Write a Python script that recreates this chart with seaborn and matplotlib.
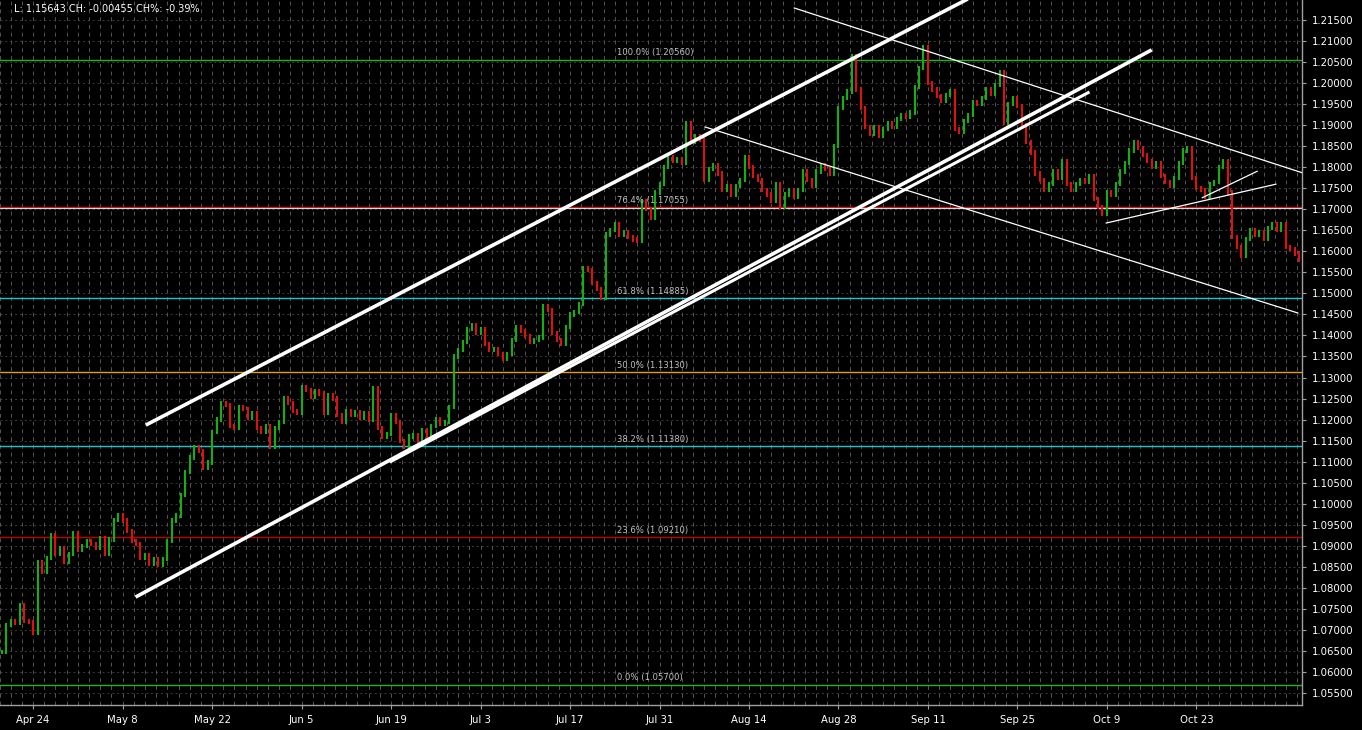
import matplotlib
matplotlib.use("Agg")
import matplotlib.pyplot as plt
import numpy as np
import pandas as pd
import seaborn as sns

# half-day bar closes, EURUSD Apr-Nov
closes = [
    1.0648, 1.0712, 1.0722, 1.0716, 1.0760, 1.0722, 1.0718, 1.0692, 1.0860, 1.0838,
    1.0870, 1.0925, 1.0880, 1.0895, 1.0862, 1.0880, 1.0930, 1.0890, 1.0900, 1.0912,
    1.0905, 1.0895, 1.0918, 1.0880, 1.0915, 1.0962, 1.0972, 1.0960, 1.0935, 1.0912,
    1.0905, 1.0870, 1.0878, 1.0858, 1.0868, 1.0855, 1.0868, 1.0912, 1.0960, 1.0972,
    1.1020, 1.1075, 1.1110, 1.1135, 1.1125, 1.1085, 1.1098, 1.1170, 1.1200, 1.1240,
    1.1235, 1.1185, 1.1180, 1.1230, 1.1225, 1.1205, 1.1215, 1.1180, 1.1170, 1.1185,
    1.1135, 1.1180, 1.1195, 1.1250, 1.1240, 1.1220, 1.1215, 1.1278, 1.1270, 1.1255,
    1.1268, 1.1262, 1.1215, 1.1258, 1.1250, 1.1210, 1.1195, 1.1220, 1.1210, 1.1218,
    1.1205, 1.1215, 1.1200, 1.1275, 1.1180, 1.1160, 1.1165, 1.1210, 1.1195, 1.1150,
    1.1135, 1.1160, 1.1162, 1.1148, 1.1175, 1.1160, 1.1185, 1.1200, 1.1190, 1.1195,
    1.1230, 1.1350, 1.1365, 1.1385, 1.1415, 1.1425, 1.1405, 1.1415, 1.1380, 1.1365,
    1.1368, 1.1355, 1.1345, 1.1355, 1.1390, 1.1420, 1.1410, 1.1398, 1.1385, 1.1390,
    1.1395, 1.1470, 1.1460, 1.1405, 1.1390, 1.1380, 1.1420, 1.1450, 1.1455, 1.1475,
    1.1560, 1.1555, 1.1525, 1.1510, 1.1490, 1.1640, 1.1650, 1.1665, 1.1640, 1.1645,
    1.1635, 1.1628, 1.1625, 1.1720, 1.1700, 1.1680, 1.1740, 1.1760, 1.1800, 1.1825,
    1.1815, 1.1820, 1.1810, 1.1905, 1.1860, 1.1875, 1.1865, 1.1770, 1.1795, 1.1805,
    1.1785, 1.1745, 1.1755, 1.1735, 1.1755, 1.1770, 1.1825, 1.1800, 1.1780, 1.1770,
    1.1745, 1.1735, 1.1720, 1.1760, 1.1705, 1.1735, 1.1745, 1.1730, 1.1745, 1.1790,
    1.1770, 1.1755, 1.1790, 1.1805, 1.1795, 1.1785, 1.1850, 1.1940, 1.1965, 1.1980,
    1.2065, 1.1985, 1.1940, 1.1895, 1.1880, 1.1895, 1.1875, 1.1890, 1.1905, 1.1895,
    1.1915, 1.1925, 1.1920, 1.1930, 1.1990, 1.2035, 1.2085, 1.2000, 1.1985, 1.1970,
    1.1958, 1.1972, 1.1980, 1.1890, 1.1885, 1.1910, 1.1925, 1.1955, 1.1950, 1.1965,
    1.1985, 1.1975, 1.1995, 1.2025, 1.1905, 1.1950, 1.1965, 1.1945, 1.1900, 1.1860,
    1.1835, 1.1785, 1.1770, 1.1745, 1.1760, 1.1790, 1.1775, 1.1815, 1.1760, 1.1745,
    1.1760, 1.1770, 1.1765, 1.1780, 1.1725, 1.1705, 1.1690, 1.1740, 1.1735, 1.1760,
    1.1790, 1.1810, 1.1840, 1.1860, 1.1845, 1.1830, 1.1815, 1.1800, 1.1810, 1.1780,
    1.1765, 1.1755, 1.1775, 1.1810, 1.1840, 1.1845, 1.1775, 1.1750, 1.1745, 1.1730,
    1.1760, 1.1765, 1.1800, 1.1815, 1.1740, 1.1635, 1.1610, 1.1590, 1.1630, 1.1650,
    1.1640, 1.1645, 1.1630, 1.1655, 1.1665, 1.1650, 1.1665, 1.1610, 1.1605, 1.1595,
    1.1580, 1.1564,
]

date_ticks = [7, 27, 47, 67, 87, 107, 127, 147, 167, 187, 207, 227, 247, 267]
date_labels = ["Apr 24", "May 8", "May 22", "Jun 5", "Jun 19", "Jul 3", "Jul 17",
               "Jul 31", "Aug 14", "Aug 28", "Sep 11", "Sep 25", "Oct 9", "Oct 23"]

fib_levels = [1.20560, 1.17055, 1.14885, 1.13130, 1.11380, 1.09210, 1.05700]
fib_names = ["100.0%", "76.4%", "61.8%", "50.0%", "38.2%", "23.6%", "0.0%"]
fib_colors = ["#22b422", "#d01010", "#10c8d0", "#e0a000", "#10c8d0", "#c00000", "#22b422"]

# trend lines: bar index / price of both ends
line_x0 = [32.2, 29.9, 86.7, 177.0, 157.1, 246.7, 268.2]
line_p0 = [1.1187, 1.0778, 1.1099, 1.2179, 1.1896, 1.1667, 1.1727]
line_x1 = [216.8, 257.0, 243.1, 290.9, 289.8, 284.9, 280.7]
line_p1 = [1.2205, 1.2079, 1.1979, 1.1786, 1.1453, 1.1760, 1.1791]
line_w = [2.6, 2.6, 2.2, 0.9, 0.9, 0.9, 0.9]

sns.set_style("dark", {"axes.facecolor": "black", "figure.facecolor": "black"})
plt.rcParams["font.family"] = ["DejaVu Sans"]

fig = plt.figure(figsize=(13.62, 7.30), dpi=100)
ax = fig.add_axes([0, 25 / 730, 1302 / 1362, 705 / 730])
ax.set_facecolor("black")

# grid
for p in np.arange(1.055, 1.2151, 0.005):
    ax.axhline(p, color="#3c3c3c", lw=0.7, ls=(0, (2, 3)), zorder=0)
for b in np.arange(-0.5, 291, 2.5):
    ax.axvline(b, color="#555555", lw=0.7, ls=(0, (4, 4)), zorder=0)

# fib levels
for lvl, name, col in zip(fib_levels, fib_names, fib_colors):
    ax.axhline(lvl, color=col, lw=1.0, zorder=1)
    ax.annotate(f"{name} ({lvl:.5f})", (137.4, lvl), xytext=(0, 1.5),
                textcoords="offset points", color="#c0c0c0", fontsize=6.1,
                ha="left", va="bottom", zorder=5)
ax.axhline(fib_levels[1] - 0.0002, color="#d8d8d8", lw=0.8, zorder=1)

# bars
c = np.array(closes)
prev = np.r_[c[0], c[:-1]]
bx = np.arange(len(c))
lo = np.minimum(prev, c) - 0.0005
hi = np.maximum(prev, c) + 0.0005
up = c >= prev
ax.vlines(bx[up], lo[up], hi[up], color="#12b012", lw=1.5, zorder=3)
ax.vlines(bx[~up], lo[~up], hi[~up], color="#e01010", lw=1.5, zorder=3)

# trend lines
for x0, p0, x1, p1, w in zip(line_x0, line_p0, line_x1, line_p1, line_w):
    df = pd.DataFrame({"x": [x0, x1], "p": [p0, p1]})
    sns.lineplot(data=df, x="x", y="p", ax=ax, color="white", lw=w,
                 solid_capstyle="butt", zorder=4)

ax.set_xlim(-0.4, 290.6)
ax.set_ylim(1.05214, 1.21976)
ax.set_xlabel("")
ax.set_ylabel("")

ax.yaxis.tick_right()
yt = np.arange(1.055, 1.2151, 0.005)
ax.set_yticks(yt)
ax.set_yticklabels([f"{v:.5f}" for v in yt])
ax.set_xticks(date_ticks)
ax.set_xticklabels(date_labels)
ax.tick_params(axis="both", colors="#a0a0a0", labelcolor="white", labelsize=7.3,
               length=3, width=0.8, direction="out", pad=3)
ax.tick_params(axis="y", left=False, right=True, pad=4)
ax.tick_params(axis="x", bottom=True, pad=4)

for s in ["top", "left"]:
    ax.spines[s].set_visible(False)
for s in ["right", "bottom"]:
    ax.spines[s].set_visible(True)
    ax.spines[s].set_color("#a0a0a0")
    ax.spines[s].set_linewidth(1.0)

fig.text(14 / 1362, 1 - 9 / 730, "L: 1.15643 CH: -0.00455 CH%: -0.39%",
         color="white", fontsize=7, ha="left", va="center")

fig.savefig("out.png", dpi=100, facecolor="black")
